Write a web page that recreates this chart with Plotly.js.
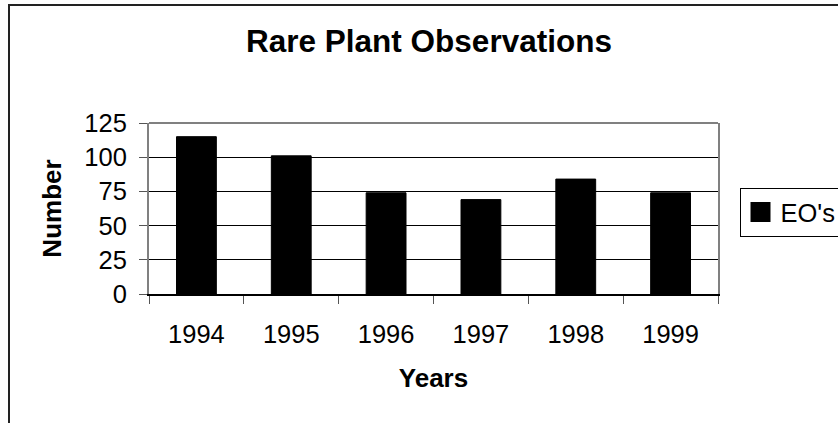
<!DOCTYPE html>
<html>
<head>
<meta charset="utf-8">
<script src="https://cdn.plot.ly/plotly-3.0.1.min.js"></script>
<style>
html,body{margin:0;padding:0;background:#fff;}
#chart{width:838px;height:423px;}
</style>
</head>
<body>
<div id="chart"></div>
<script>
const years = ["1994", "1995", "1996", "1997", "1998", "1999"];
const eos = [115, 101, 74, 69, 84, 74];
const seriesName = "EO's";
const yTicks = [0, 25, 50, 75, 100, 125];

const FONT = "Arial, 'Liberation Sans', sans-serif";

const traces = [
  {
    type: "bar",
    x: years,
    y: eos,
    name: seriesName,
    showlegend: false,
    marker: {color: "#000000", line: {color: "#000000", width: 1}},
    hoverinfo: "x+y"
  },
  {
    type: "scatter",
    mode: "markers",
    x: [null],
    y: [null],
    name: seriesName,
    showlegend: true,
    marker: {symbol: "square", size: 16, color: "#000000", line: {color: "#000000", width: 4}}
  }
];

const layout = {
  width: 838,
  height: 423,
  paper_bgcolor: "#ffffff",
  plot_bgcolor: "#ffffff",
  font: {family: FONT, color: "#000000", size: 25.5},
  margin: {l: 149, r: 120, t: 123, b: 129, pad: 0, autoexpand: false},
  bargap: 0.58,
  title: {
    text: "<b>Rare Plant Observations</b>",
    font: {family: FONT, size: 31.5, color: "#000000"},
    xref: "container", x: 429 / 838, xanchor: "center",
    yref: "container", y: 1 - 30 / 423, yanchor: "top"
  },
  xaxis: {
    type: "category",
    tickson: "boundaries",
    ticks: "outside",
    ticklen: 8,
    tickcolor: "#555555",
    tickwidth: 1,
    showline: true,
    linecolor: "#000000",
    linewidth: 2,
    showgrid: false,
    zeroline: false,
    ticklabelstandoff: 16,
    tickfont: {family: FONT, size: 25.5, color: "#000000"},
    title: {
      text: "<b>Years</b>",
      font: {family: FONT, size: 26, color: "#000000"},
      standoff: 22
    }
  },
  yaxis: {
    range: [0, 125],
    tickvals: yTicks,
    ticktext: yTicks.map(String),
    ticks: "outside",
    ticklen: 8,
    tickcolor: "#555555",
    tickwidth: 1,
    showline: true,
    linecolor: "#808080",
    linewidth: 2,
    mirror: true,
    showgrid: true,
    gridcolor: "#000000",
    gridwidth: 1,
    zeroline: false,
    ticklabelstandoff: 7,
    tickfont: {family: FONT, size: 25.5, color: "#000000"},
    title: {
      text: "<b>Number</b>",
      font: {family: FONT, size: 26, color: "#000000"},
      standoff: 15
    }
  },
  legend: {
    x: (739.5 - 149) / 569,
    xanchor: "left",
    y: (294 - 188) / 171,
    yanchor: "top",
    bgcolor: "#ffffff",
    bordercolor: "#000000",
    borderwidth: 1,
    font: {family: FONT, size: 25.5, color: "#000000"},
    itemwidth: 30,
    entrywidth: 120
  },
  shapes: [
    {
      type: "line", xref: "paper", yref: "paper",
      x0: 0, x1: 1, y0: 1, y1: 1,
      line: {color: "#808080", width: 2}
    },
    {
      type: "rect", xref: "paper", yref: "paper",
      x0: (9 - 149) / 569, x1: (860 - 149) / 569,
      y0: (294 - 460) / 171, y1: (294 - 5) / 171,
      line: {color: "#222222", width: 2},
      fillcolor: "rgba(0,0,0,0)",
      layer: "below"
    }
  ]
};

Plotly.newPlot("chart", traces, layout, {displayModeBar: false, staticPlot: true});
</script>
</body>
</html>
